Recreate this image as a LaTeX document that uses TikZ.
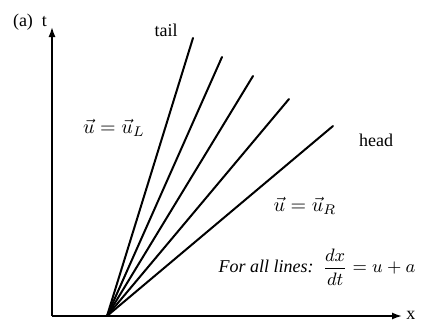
\documentclass[tikz,border=0pt]{standalone}
\usepackage{fontspec}
\setmainfont{Liberation Serif}
\usepackage{amsmath}
\usepackage{tikz}
\usetikzlibrary{arrows.meta,positioning}
\tikzset{
  axis/.style={
    -{Latex[length=5pt,width=3.5pt]},
    line width=0.8pt,
    draw=black
  },
  charline/.style={
    line width=1pt,
    draw=black,
    line cap=round
  },
  lbl/.style={
    font=\small,
    inner sep=1pt
  }
}

\begin{document}
\begin{tikzpicture}[x=0.5pt,y=-0.5pt]
  \useasboundingbox (0,0) rectangle (421,322);

  % axes
  \coordinate (corner) at (52,316);
  \coordinate (tend) at (52,27);
  \coordinate (xend) at (402,316);
  \draw[axis] (corner) -- (tend);
  \draw[axis] (corner) -- (xend);
  \node[lbl, anchor=south west, inner sep=0.5pt] (xlab) at (405,321) {x};
  \node[lbl] (tlab) at (30,22) {(a)\ \ t};

  % fan of characteristics
  \coordinate (fan) at (107,316);
  \coordinate (tail) at (193,38);
  \coordinate (head) at (333,126);
  \foreach \ex/\ey in {222/57, 253/76, 289/99} {
    \draw[charline] (fan) -- (\ex,\ey);
  }
  \draw[charline] (fan) -- (tail);
  \draw[charline] (fan) -- (head);

  \node[lbl] (taillab) at (166,30) {tail};
  \node[lbl] (headlab) at (376,140) {head};

  % states
  \node[lbl, font=\normalsize] (left) at (114,128) {$\vec{u} = \vec{u}_L$};
  \node[lbl, font=\normalsize] (right) at (305,206) {$\vec{u} = \vec{u}_R$};
  \node[lbl] (speed) at (317,267) {\textit{For all lines:}\ \ $\dfrac{dx}{dt} = u + a$};
\end{tikzpicture}
\end{document}
